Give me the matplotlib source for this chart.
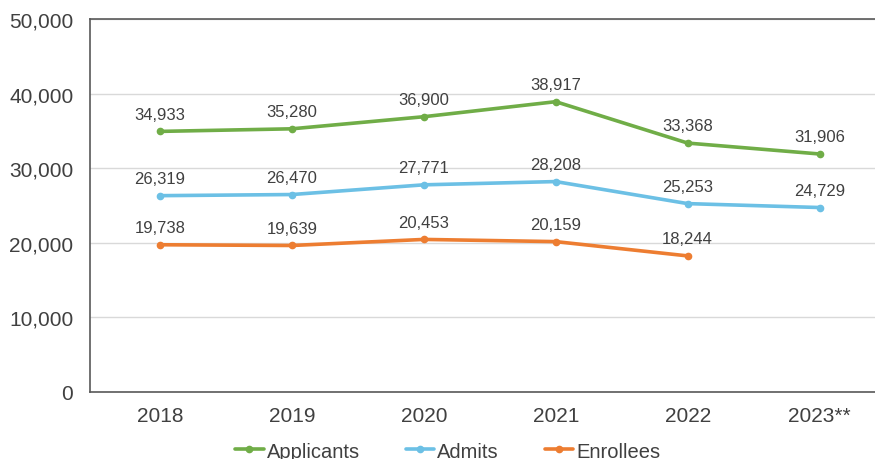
import matplotlib.pyplot as plt

plt.rcParams["font.family"] = ["Liberation Sans", "DejaVu Sans"]

years = ["2018", "2019", "2020", "2021", "2022", "2023**"]
applicants = [34933, 35280, 36900, 38917, 33368, 31906]
admits = [26319, 26470, 27771, 28208, 25253, 24729]
enrollees = [19738, 19639, 20453, 20159, 18244]

series = [
    ("Applicants", applicants, "#70AD47"),
    ("Admits", admits, "#6CC0E5"),
    ("Enrollees", enrollees, "#ED7D31"),
]

TXT = "#404040"

fig = plt.figure(figsize=(8.75, 4.6), dpi=100)
ax = fig.add_axes([90 / 875, 67 / 460, 785 / 875, 373 / 460])

for name, vals, color in series:
    xs = list(range(len(vals)))
    ax.plot(xs, vals, color=color, linewidth=2.6, marker="o", markersize=4.5,
            label=name, solid_capstyle="round")
    for x, v in zip(xs, vals):
        ax.annotate(f"{v:,}", (x, v), xytext=(0, 7), textcoords="offset points",
                    ha="center", va="bottom", fontsize=12, color=TXT)

ax.set_xlim(-0.53, 5.42)
ax.set_ylim(0, 50000)
ax.set_yticks(range(0, 50001, 10000))
ax.set_yticklabels([f"{t:,}" for t in range(0, 50001, 10000)])
ax.set_xticks(range(len(years)))
ax.set_xticklabels(years)
ax.tick_params(length=0, labelsize=15, colors=TXT, pad=10)
ax.tick_params(axis="y", pad=12)
ax.yaxis.grid(True, color="#d9d9d9", linewidth=1)
ax.set_axisbelow(True)

for side in ["left", "bottom", "top"]:
    ax.spines[side].set_color("#595959")
    ax.spines[side].set_linewidth(1.2)
ax.spines["right"].set_visible(False)

ax.legend(loc="upper center", bbox_to_anchor=(0.456, -0.095), ncol=3, frameon=False,
          fontsize=14.5, handlelength=1.4, handletextpad=0.15, columnspacing=2.3,
          borderpad=0.2, labelcolor=TXT)

fig.savefig("out.png", dpi=100)
